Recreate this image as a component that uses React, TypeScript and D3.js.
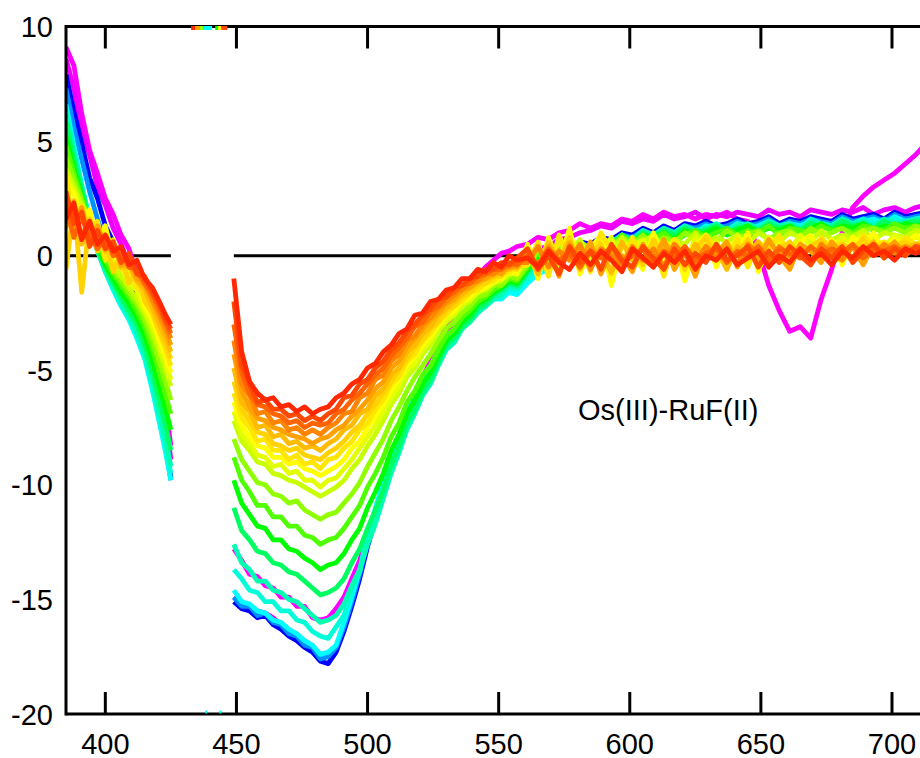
import React from 'react';
import * as d3 from 'd3';

// ---------- data ----------
const WL_LEFT = [385, 388, 391, 394, 397, 400, 403, 406, 409, 412, 415, 418, 421, 423, 425];
const WL_RIGHT = [
  449, 452, 455, 458, 461, 464, 467, 470, 473, 476, 479, 482, 485, 488, 491, 494, 497, 500, 503, 506,
  509, 512, 515, 518, 521, 524, 527, 530, 533, 536, 539, 542, 545, 548, 551, 554, 557,
  561, 565, 569, 573, 577, 581, 585, 589, 593, 597, 601, 605, 609, 613, 617, 621, 625, 629, 633,
  637, 641, 645, 649, 653, 657, 661, 665, 669, 673, 677, 681, 685, 689, 693, 697, 701, 705, 709, 713,
];
const X_TICKS = [400, 450, 500, 550, 600, 650, 700];
const Y_TICKS = [10, 5, 0, -5, -10, -15, -20];
const LABEL = 'Os(III)-RuF(II)';

const magentaL = [9.1, 8.3, 6.2, 4.6, 3.6, 2.5, 1.8, 0.9, 0.3, -0.8, -1.9, -3.3, -5.0, -6.6, -8.3];
const purpleL = [8.6, 7.3, 5.5, 4.4, 3.0, 2.2, 1.2, 0.5, -0.4, -1.3, -2.5, -3.9, -5.7, -7.2, -8.9];
const blueL = [7.9, 6.3, 4.9, 3.4, 2.5, 1.3, 0.6, -0.4, -1.1, -2.1, -3.2, -4.7, -6.4, -8.0, -9.7];
const azureL = [7.3, 5.6, 4.2, 2.8, 1.6, 0.6, -0.3, -1.0, -1.8, -2.7, -3.8, -5.3, -7.0, -8.4, -9.8];
const cyanL = [6.6, 4.8, 3.1, 1.6, 0.3, -0.7, -1.5, -2.2, -2.8, -3.6, -4.5, -5.9, -7.5, -8.6, -9.8];
const tealL = [6.4, 4.6, 3.0, 1.6, 0.2, -0.7, -1.4, -2.1, -2.7, -3.4, -4.4, -5.7, -7.3, -8.3, -9.5];
const aquaL = [6.2, 4.5, 3.0, 1.5, 0.2, -0.6, -1.3, -2.0, -2.6, -3.3, -4.2, -5.5, -7.0, -8.0, -9.2];
const springL = [5.8, 4.2, 2.8, 1.4, 0.3, -0.5, -1.2, -1.8, -2.4, -3.0, -3.9, -5.1, -6.5, -7.4, -8.5];
const greenL = [5.2, 3.8, 2.6, 1.3, 0.4, -0.4, -1.0, -1.6, -2.1, -2.7, -3.5, -4.6, -5.9, -6.7, -7.6];
const green2L = [4.8, 3.6, 2.5, 1.4, 0.6, -0.2, -0.8, -1.3, -1.8, -2.4, -3.1, -4.1, -5.3, -6.1, -6.9];
const chartL = [4.3, 3.3, 2.4, 1.5, 0.8, 0.0, -0.6, -1.1, -1.6, -2.1, -2.8, -3.7, -4.8, -5.5, -6.3];
const ygL = [3.8, 3.0, 2.2, 1.6, 0.9, 0.2, -0.4, -0.9, -1.4, -1.9, -2.5, -3.3, -4.3, -5.0, -5.7];
const lemonL = [3.5, 2.8, 1.8, 1.8, 0.7, 0.7, -0.3, -0.4, -1.2, -1.5, -2.4, -3.0, -4.0, -4.7, -5.4];
const yellowL = [3.2, 2.7, 1.5, 2.0, 0.6, 1.3, -0.1, 0.2, -1.1, -0.9, -2.2, -2.8, -3.8, -4.4, -5.1];
const sunL = [3.6, 1.0, 2.2, 0.8, 1.5, -0.2, 0.7, -0.6, -0.4, -1.4, -1.7, -2.6, -3.5, -4.1, -4.8];
const goldL = [-0.6, 2.2, -1.6, 1.6, 0.2, 0.8, -0.7, 0.1, -1.2, -0.7, -2.0, -2.5, -3.4, -3.9, -4.5];
const amberL = [1.2, 2.4, 0.5, 1.2, 0.9, 0.2, 0.6, -0.5, -0.4, -1.1, -1.5, -2.3, -3.1, -3.6, -4.2];
const orangeL = [2.6, 1.3, 2.1, 0.6, 1.3, 0.4, 0.5, -0.4, -0.2, -1.0, -1.3, -2.0, -2.8, -3.3, -3.9];
const tangerineL = [2.4, 1.9, 0.9, 1.5, 0.4, 0.7, 0.3, -0.1, -0.3, -0.7, -1.2, -1.9, -2.6, -3.1, -3.6];
const dorangeL = [2.2, 0.8, 1.7, 0.9, 0.3, 0.9, 0.0, 0.2, -0.5, -0.6, -1.2, -1.7, -2.4, -2.9, -3.4];
const vermilionL = [2.8, 1.4, 1.9, 0.4, 1.1, 0.3, 0.6, -0.3, 0.1, -0.8, -0.9, -1.6, -2.2, -2.8, -3.2];
const redL = [1.6, 2.3, 0.7, 1.5, 0.5, 0.9, 0.2, 0.4, -0.4, -0.2, -1.0, -1.4, -2.1, -2.6, -3.0];

const magentaR = [
  -12.8, -13.3, -13.9, -14.0, -14.4, -14.5, -14.9, -14.9, -15.3, -15.3, -15.8, -15.9, -15.8, -15.4, -14.9, -14.1, -13.3, -12.2, -11.2, -10.1,
  -9.0, -8.1, -7.1, -6.2, -5.3, -4.6, -3.8, -3.1, -2.5, -1.9, -1.4, -0.9, -0.5, -0.2, 0.1, 0.2, 0.4,
  0.5, 0.8, 0.7, 1.0, 1.1, 1.4, 1.2, 1.4, 1.3, 1.6, 1.5, 1.8, 1.6, 1.9, 1.7, 1.8, 1.6, 1.8, 1.7, 1.9,
  1.6, 1.5, 0.2, -1.3, -2.4, -3.3, -3.1, -3.6, -1.9, -0.6, 1.0, 2.1, 2.6, 3.0, 3.3, 3.6, 4.0, 4.4, 4.9,
];
const purpleR = [
  -14.9, -15.2, -15.4, -15.5, -15.6, -15.8, -16.1, -16.4, -16.5, -16.9, -17.0, -17.5, -17.5, -17.1, -16.1, -15.1, -13.8, -12.5, -11.2, -10.1,
  -8.9, -8.0, -7.0, -6.2, -5.4, -4.8, -4.2, -3.5, -3.1, -2.6, -2.2, -1.9, -1.6, -1.3, -1.1, -0.7, -0.6,
  -0.1, 0.3, 0.4, 0.7, 0.8, 1.0, 1.1, 1.3, 1.2, 1.5, 1.4, 1.6, 1.5, 1.8, 1.6, 1.7, 1.9, 1.6, 1.8, 1.7,
  1.9, 1.8, 1.7, 2.0, 1.8, 1.9, 1.7, 2.0, 1.9, 1.8, 2.0, 1.9, 2.1, 1.8, 2.0, 2.1, 1.9, 2.1, 2.2,
];
const blueR = [
  -15.1, -15.4, -15.5, -15.8, -15.7, -16.1, -16.3, -16.6, -16.8, -17.1, -17.3, -17.7, -17.8, -17.3, -16.4, -15.3, -14.1, -12.7, -11.5, -10.3,
  -9.2, -8.3, -7.2, -6.5, -5.6, -5.1, -4.4, -3.8, -3.4, -2.9, -2.6, -2.2, -2.0, -1.7, -1.6, -1.3, -1.3,
  -0.8, -0.4, -0.1, 0.2, 0.3, 0.6, 0.5, 0.8, 0.7, 1.0, 0.9, 1.2, 1.0, 1.3, 1.1, 1.4, 1.3, 1.5, 1.3, 1.4,
  1.6, 1.4, 1.5, 1.7, 1.4, 1.6, 1.5, 1.7, 1.6, 1.5, 1.8, 1.6, 1.7, 1.8, 1.6, 1.9, 1.7, 1.8, 1.9,
];
const azureR = [
  -14.9, -15.3, -15.3, -15.7, -15.6, -16.0, -16.1, -16.5, -16.6, -17.0, -17.1, -17.6, -17.5, -17.1, -16.2, -15.1, -13.9, -12.5, -11.3, -10.1,
  -9.0, -8.1, -7.0, -6.3, -5.5, -5.0, -4.3, -3.7, -3.4, -2.9, -2.6, -2.3, -2.1, -1.8, -1.8, -1.5, -1.5,
  -1.0, -0.6, -0.3, 0.0, 0.2, 0.4, 0.3, 0.7, 0.6, 0.9, 0.8, 1.1, 0.9, 1.2, 1.0, 1.3, 1.2, 1.4, 1.2, 1.3,
  1.5, 1.3, 1.4, 1.6, 1.3, 1.5, 1.4, 1.6, 1.5, 1.4, 1.7, 1.5, 1.6, 1.7, 1.5, 1.8, 1.6, 1.7, 1.8,
];
const cyanR = [
  -14.6, -15.1, -15.2, -15.5, -15.6, -15.9, -16.0, -16.3, -16.5, -16.8, -17.0, -17.4, -17.3, -17.0, -16.0, -14.9, -13.7, -12.2, -11.0, -9.9,
  -8.8, -7.9, -6.8, -6.1, -5.3, -4.9, -4.2, -3.6, -3.3, -2.9, -2.6, -2.3, -2.2, -1.9, -1.9, -1.6, -1.7,
  -1.2, -0.8, -0.6, -0.2, -0.1, 0.3, 0.2, 0.5, 0.4, 0.8, 0.6, 0.9, 0.8, 1.1, 0.9, 1.2, 1.0, 1.3, 1.2, 1.1,
  1.4, 1.2, 1.3, 1.5, 1.2, 1.4, 1.3, 1.5, 1.4, 1.3, 1.6, 1.4, 1.5, 1.6, 1.4, 1.7, 1.5, 1.6, 1.7,
];
const tealR = [
  -13.7, -14.1, -14.6, -14.7, -15.1, -15.1, -15.5, -15.5, -15.9, -16.0, -16.4, -16.6, -16.7, -16.2, -15.7, -14.6, -13.8, -12.3, -11.4, -10.2,
  -9.2, -8.2, -7.3, -6.4, -5.8, -5.2, -4.6, -3.8, -3.6, -3.0, -2.8, -2.4, -2.2, -1.9, -1.8, -1.4, -1.5,
  -1.0, -0.5, -0.5, 0.0, 0.0, 0.4, 0.3, 0.6, 0.5, 0.9, 0.6, 1.0, 0.9, 1.1, 1.0, 1.3, 1.0, 1.2, 1.3, 1.1,
  1.4, 1.3, 1.2, 1.5, 1.3, 1.4, 1.2, 1.6, 1.4, 1.3, 1.5, 1.4, 1.6, 1.4, 1.5, 1.6, 1.4, 1.6, 1.6,
];
const aquaR = [
  -12.6, -13.4, -13.7, -14.2, -14.2, -14.6, -14.7, -15.0, -15.1, -15.4, -15.7, -16.0, -15.9, -15.7, -15.2, -14.4, -13.7, -12.6, -11.7, -10.6,
  -9.5, -8.6, -7.6, -6.9, -6.1, -5.6, -4.8, -4.1, -3.8, -3.2, -2.9, -2.5, -2.2, -1.9, -1.7, -1.3, -1.4,
  -0.8, -0.2, -0.4, 0.2, 0.1, 0.5, 0.3, 0.7, 0.6, 0.9, 0.7, 1.1, 0.9, 1.2, 1.0, 1.3, 1.1, 1.2, 1.4, 1.1,
  1.3, 1.4, 1.2, 1.5, 1.3, 1.4, 1.2, 1.5, 1.4, 1.3, 1.6, 1.4, 1.5, 1.3, 1.6, 1.4, 1.5, 1.6, 1.5,
];
const springR = [
  -11.0, -12.0, -12.4, -12.9, -13.0, -13.4, -13.5, -13.8, -13.9, -14.2, -14.5, -14.8, -14.7, -14.5, -14.1, -13.4, -12.8, -11.9, -11.1, -10.2,
  -9.1, -8.3, -7.3, -6.7, -5.9, -5.4, -4.6, -3.9, -3.6, -3.1, -2.8, -2.3, -2.1, -1.7, -1.5, -1.2, -1.3,
  -0.7, -0.1, -0.4, 0.3, 0.0, 0.5, 0.2, 0.7, 0.5, 0.9, 0.6, 1.0, 0.8, 1.1, 0.9, 1.2, 1.0, 1.1, 1.3, 1.0,
  1.2, 1.3, 1.1, 1.4, 1.2, 1.3, 1.1, 1.4, 1.3, 1.2, 1.5, 1.3, 1.4, 1.2, 1.5, 1.3, 1.4, 1.5, 1.4,
];
const greenR = [
  -9.8, -10.8, -11.3, -11.8, -11.9, -12.4, -12.4, -12.8, -12.9, -13.2, -13.4, -13.7, -13.5, -13.4, -13.0, -12.4, -11.9, -11.0, -10.3, -9.5,
  -8.5, -7.8, -6.9, -6.3, -5.6, -5.1, -4.4, -3.7, -3.4, -2.9, -2.6, -2.1, -1.9, -1.6, -1.4, -1.1, -1.2,
  -0.6, 0.0, -0.3, 0.3, 0.1, 0.5, 0.3, 0.7, 0.5, 0.8, 0.6, 0.9, 0.8, 1.0, 0.7, 1.1, 0.9, 1.0, 1.2, 0.9,
  1.1, 1.3, 1.0, 1.2, 1.1, 1.3, 1.0, 1.2, 1.4, 1.1, 1.3, 1.2, 1.4, 1.1, 1.3, 1.2, 1.4, 1.3, 1.4,
];
const green2R = [
  -8.8, -9.8, -10.3, -10.9, -10.9, -11.4, -11.4, -11.8, -11.8, -12.2, -12.3, -12.6, -12.4, -12.3, -11.9, -11.4, -10.9, -10.1, -9.5, -8.8,
  -7.9, -7.3, -6.4, -5.9, -5.2, -4.8, -4.1, -3.5, -3.2, -2.7, -2.4, -2.0, -1.8, -1.5, -1.3, -1.0, -1.1,
  -0.5, 0.1, -0.2, 0.4, 0.1, 0.6, 0.3, 0.7, 0.4, 0.9, 0.5, 0.8, 0.7, 1.0, 0.6, 0.9, 1.1, 0.8, 1.0, 1.2,
  0.9, 1.1, 1.0, 1.3, 0.9, 1.2, 1.1, 1.0, 1.3, 1.1, 1.2, 1.0, 1.3, 1.2, 1.1, 1.4, 1.2, 1.3, 1.2,
];
const chartR = [
  -8.0, -8.9, -9.4, -9.9, -10.0, -10.4, -10.5, -10.8, -10.7, -11.1, -11.3, -11.5, -11.3, -11.2, -10.8, -10.4, -9.9, -9.2, -8.6, -8.0,
  -7.2, -6.6, -5.9, -5.3, -4.8, -4.3, -3.7, -3.2, -2.9, -2.5, -2.2, -1.8, -1.7, -1.3, -1.3, -0.9, -1.0,
  -0.4, 0.2, -0.1, 0.5, 0.0, 0.6, 0.3, 0.7, 0.2, 0.8, 0.5, 0.9, 0.4, 0.8, 0.6, 1.0, 0.7, 0.9, 0.6, 1.1,
  0.8, 0.9, 1.1, 0.7, 1.0, 1.1, 0.8, 1.2, 0.9, 1.0, 1.2, 0.9, 1.1, 1.2, 1.0, 1.2, 1.0, 1.3, 1.1,
];
const ygR = [
  -7.2, -8.1, -8.5, -9.0, -9.1, -9.5, -9.6, -9.8, -9.9, -10.1, -10.3, -10.5, -10.3, -10.1, -9.8, -9.3, -8.9, -8.3, -7.8, -7.2,
  -6.5, -6.0, -5.3, -4.9, -4.3, -3.9, -3.3, -2.9, -2.6, -2.2, -2.0, -1.6, -1.5, -1.2, -1.1, -0.8, -0.8,
  -0.2, 0.4, -0.3, 0.6, 0.1, 0.7, -0.1, 0.5, 0.3, 0.8, 0.2, 0.6, 0.9, 0.3, 0.7, 0.5, 1.0, 0.4, 0.8, 0.6,
  0.9, 0.5, 1.0, 0.7, 0.6, 1.0, 0.8, 0.6, 1.1, 0.7, 0.9, 0.8, 1.1, 0.7, 1.0, 0.9, 0.8, 1.1, 1.0,
];
const lemonR = [
  -6.8, -7.8, -8.2, -8.7, -8.8, -9.2, -9.1, -9.5, -9.4, -9.8, -9.8, -10.1, -9.8, -9.7, -9.3, -8.9, -8.4, -7.9, -7.4, -6.8,
  -6.2, -5.7, -5.0, -4.7, -4.1, -3.7, -3.1, -2.8, -2.5, -2.1, -1.9, -1.6, -1.4, -1.2, -1.0, -0.8, -0.7,
  0.2, -0.5, 0.6, -0.1, 0.9, -0.4, 0.5, 0.1, 0.8, -0.6, 0.4, 0.7, -0.2, 0.6, 0.3, -0.5, 0.8, 0.2, 0.6, -0.3,
  0.9, 0.4, 0.1, 0.8, 0.5, 0.2, 0.9, 0.4, 0.7, 0.3, 0.8, 0.5, 0.9, 0.6, 0.4, 0.9, 0.6, 0.8, 0.7,
];
const yellowR = [
  -6.4, -7.4, -7.9, -8.3, -8.4, -8.8, -8.8, -9.1, -9.0, -9.3, -9.4, -9.6, -9.4, -9.2, -8.9, -8.4, -8.1, -7.5, -7.0, -6.5,
  -5.9, -5.4, -4.8, -4.4, -3.9, -3.5, -3.0, -2.6, -2.4, -2.0, -1.8, -1.5, -1.4, -1.1, -1.0, -0.6, -0.8,
  0.5, -1.0, 0.8, -0.4, 1.2, -0.8, 0.3, 0.9, -1.3, 0.6, 0.1, -0.6, 1.0, -0.2, 0.7, -1.1, 0.4, 0.9, -0.5, 0.6,
  0.2, 1.0, -0.7, 0.5, 0.8, -0.3, 0.6, 0.9, 0.1, 0.7, -0.4, 0.8, 0.5, 1.0, 0.2, 0.7, 0.5, 0.9, 0.6,
];
const sunR = [
  -6.0, -7.1, -7.5, -8.1, -8.0, -8.5, -8.5, -8.9, -8.7, -9.1, -9.0, -9.3, -8.9, -8.8, -8.4, -8.1, -7.6, -7.3, -6.7, -6.3,
  -5.6, -5.3, -4.6, -4.3, -3.7, -3.4, -2.9, -2.6, -2.2, -2.0, -1.6, -1.5, -1.2, -1.1, -0.8, -0.7, -0.5,
  -0.4, 0.6, -0.9, 0.9, -0.2, 0.4, -0.7, 1.0, 0.2, -0.5, 0.8, -0.3, 0.5, -0.9, 0.7, 0.1, -0.4, 0.9, 0.3, -0.2,
  0.7, -0.5, 0.6, 0.2, 0.9, -0.1, 0.5, -0.4, 0.8, 0.3, 0.6, -0.2, 0.9, 0.4, 0.6, 0.2, 0.8, 0.5, 0.7,
];
const goldR = [
  -5.5, -6.7, -7.2, -7.7, -7.8, -8.2, -8.3, -8.5, -8.4, -8.7, -8.8, -8.9, -8.6, -8.4, -8.1, -7.7, -7.4, -6.9, -6.5, -6.0,
  -5.5, -5.0, -4.5, -4.0, -3.7, -3.2, -2.9, -2.4, -2.2, -1.8, -1.6, -1.3, -1.2, -0.9, -0.9, -0.5, -0.6,
  0.3, -0.7, 0.6, -0.2, 0.8, -0.5, 0.1, 0.5, -0.8, 0.4, 0.2, -0.4, 0.7, 0.0, 0.5, -0.6, 0.3, 0.8, -0.2, 0.4,
  0.1, 0.7, -0.3, 0.5, 0.2, 0.6, -0.1, 0.4, 0.7, 0.0, 0.5, 0.3, 0.7, 0.1, 0.5, 0.4, 0.6, 0.3, 0.6,
];
const amberR = [
  -4.9, -6.4, -6.8, -7.5, -7.4, -7.9, -7.8, -8.2, -8.1, -8.4, -8.3, -8.5, -8.2, -8.0, -7.6, -7.4, -6.9, -6.7, -6.1, -5.8,
  -5.2, -4.9, -4.2, -3.9, -3.4, -3.1, -2.6, -2.3, -2.0, -1.7, -1.4, -1.2, -1.0, -0.9, -0.6, -0.6, -0.4,
  0.1, -0.8, 0.5, -0.3, 0.6, -0.6, 0.4, 0.0, -0.7, 0.6, -0.2, 0.3, -0.5, 0.6, 0.1, -0.4, 0.5, -0.1, 0.3, -0.6,
  0.4, 0.1, 0.6, -0.2, 0.3, -0.4, 0.5, 0.2, -0.1, 0.6, 0.0, 0.4, 0.2, 0.6, -0.1, 0.5, 0.3, 0.5, 0.4,
];
const orangeR = [
  -4.3, -5.9, -6.6, -7.1, -7.2, -7.5, -7.6, -7.8, -7.9, -8.0, -8.2, -8.0, -7.9, -7.6, -7.4, -7.0, -6.7, -6.3, -5.8, -5.5,
  -4.9, -4.6, -4.0, -3.6, -3.2, -2.8, -2.5, -2.1, -1.9, -1.5, -1.4, -1.1, -1.0, -0.7, -0.8, -0.4, -0.5,
  0.2, -0.6, 0.4, -0.9, 0.5, -0.3, 0.6, -0.8, 0.3, 0.0, -0.7, 0.5, -0.2, 0.7, -0.6, 0.2, -0.9, 0.4, 0.1, 0.6,
  -0.5, 0.3, -0.2, 0.7, 0.0, -0.6, 0.5, 0.2, -0.3, 0.6, 0.1, 0.4, -0.4, 0.5, 0.2, 0.6, 0.0, 0.4, 0.5,
];
const tangerineR = [
  -3.7, -5.6, -6.1, -6.9, -6.8, -7.3, -7.2, -7.6, -7.5, -7.8, -7.6, -7.8, -7.5, -7.3, -6.9, -6.8, -6.2, -6.0, -5.4, -5.2,
  -4.6, -4.3, -3.7, -3.5, -3.0, -2.7, -2.3, -2.0, -1.7, -1.5, -1.2, -1.1, -0.8, -0.8, -0.5, -0.5, -0.3,
  -0.3, 0.4, -0.5, 0.2, -0.2, 0.5, -0.6, 0.3, 0.0, -0.4, 0.4, -0.2, 0.3, -0.5, 0.5, 0.0, -0.3, 0.4, -0.1, 0.2,
  -0.4, 0.5, 0.1, -0.2, 0.4, 0.0, 0.3, -0.3, 0.5, 0.1, -0.2, 0.4, 0.2, 0.0, 0.5, 0.1, 0.4, 0.2, 0.4,
];
const dorangeR = [
  -3.0, -5.1, -6.0, -6.5, -6.6, -6.9, -7.0, -7.3, -7.2, -7.5, -7.3, -7.4, -7.3, -6.9, -6.7, -6.3, -6.0, -5.6, -5.2, -4.9,
  -4.4, -4.0, -3.6, -3.1, -2.9, -2.4, -2.2, -1.8, -1.6, -1.3, -1.2, -0.9, -0.8, -0.6, -0.6, -0.3, -0.4,
  0.0, -0.4, 0.3, -0.2, 0.1, -0.5, 0.2, -0.1, 0.4, -0.3, 0.0, 0.3, -0.4, 0.2, -0.1, 0.4, -0.2, 0.1, 0.3, -0.3,
  0.2, 0.0, 0.4, -0.2, 0.3, 0.1, -0.1, 0.4, 0.0, 0.3, 0.1, 0.5, -0.1, 0.3, 0.2, 0.4, 0.1, 0.3, 0.4,
];
const vermilionR = [
  -2.0, -4.8, -5.6, -6.4, -6.3, -6.7, -6.7, -7.0, -6.9, -7.2, -7.0, -7.2, -6.9, -6.7, -6.2, -6.1, -5.6, -5.4, -4.9, -4.6,
  -4.1, -3.8, -3.3, -3.0, -2.6, -2.3, -1.9, -1.8, -1.4, -1.3, -1.0, -0.9, -0.6, -0.6, -0.3, -0.4, -0.1,
  0.3, -0.6, 0.0, -0.8, 0.4, -0.3, 0.2, -0.6, 0.5, -0.2, -0.5, 0.4, -0.1, -0.6, 0.3, -0.4, 0.1, -0.3, 0.5, -0.2,
  0.0, 0.4, -0.5, 0.2, -0.3, 0.4, 0.0, -0.4, 0.3, -0.1, 0.4, -0.3, 0.2, 0.5, -0.1, 0.3, 0.0, 0.4, 0.2,
];
const redR = [
  -1.0, -4.2, -5.5, -6.0, -6.3, -6.2, -6.6, -6.5, -6.8, -6.6, -6.9, -6.7, -6.6, -6.2, -6.0, -5.6, -5.4, -4.9, -4.7, -4.2,
  -3.9, -3.4, -3.2, -2.6, -2.5, -2.0, -1.9, -1.5, -1.4, -1.0, -1.0, -0.6, -0.7, -0.3, -0.5, 0.0, -0.2,
  -0.1, -0.5, 0.2, -0.3, -0.6, 0.1, -0.4, 0.2, -0.2, -0.7, 0.3, -0.1, -0.5, 0.1, -0.3, 0.2, -0.6, 0.0, -0.2, 0.3,
  -0.4, -0.1, 0.2, -0.5, 0.0, -0.3, 0.3, -0.2, 0.1, -0.4, 0.2, -0.1, 0.4, 0.0, 0.2, -0.2, 0.3, 0.1, 0.3,
];

// drawing order: first (magenta) to last (red, on top)
const SERIES_NAMES = [
  'magenta', 'purple', 'blue', 'azure', 'cyan', 'teal', 'aqua', 'spring', 'green', 'green2', 'chart',
  'yg', 'lemon', 'yellow', 'sun', 'gold', 'amber', 'orange', 'tangerine', 'dorange', 'vermilion', 'red',
];
const COLORS = [
  '#ff00ff', '#ee00ff', '#0000ff', '#0090ff', '#00ffff', '#00ffd8', '#00ffb0', '#00ff60', '#00ff00', '#50ff00', '#90ff00',
  '#c8ff00', '#e4ff00', '#ffff00', '#ffe600', '#ffd200', '#ffbb00', '#ffa000', '#ff8400', '#ff6400', '#ff4800', '#ff2800',
];
const LEFT_VALUES = [
  magentaL, purpleL, blueL, azureL, cyanL, tealL, aquaL, springL, greenL, green2L, chartL,
  ygL, lemonL, yellowL, sunL, goldL, amberL, orangeL, tangerineL, dorangeL, vermilionL, redL,
];
const RIGHT_VALUES = [
  magentaR, purpleR, blueR, azureR, cyanR, tealR, aquaR, springR, greenR, green2R, chartR,
  ygR, lemonR, yellowR, sunR, goldR, amberR, orangeR, tangerineR, dorangeR, vermilionR, redR,
];

// clipped excursions in the blanked 425–449 nm region: [from, to, colour]
const CLIP_TOP: [number, number, string][] = [
  [432.7, 434.2, '#ff2800'], [434.2, 436.1, '#ffa000'], [436.1, 437.3, '#90ff00'], [437.3, 440.7, '#00ffff'],
  [441.9, 443.0, '#00ff00'], [443.0, 444.2, '#ffff00'], [444.2, 446.5, '#ff4800'],
];
const CLIP_BOTTOM: [number, number, string][] = [[438.1, 438.8, '#00ffff'], [443.5, 444.2, '#00ffff']];

// ---------- layout ----------
const W = 920;
const H = 758;
const X0 = 66;
const PX_PER_NM = 2.6222;
const X_MAX = 720;
const Y_TOP = 26.5;
const Y_BOT = 714;
const LINE_W = 4.8;
const FONT = "'Liberation Sans', Arial, Helvetica, sans-serif";

export default function App() {
  const x = d3.scaleLinear().domain([385, X_MAX]).range([X0, X0 + (X_MAX - 385) * PX_PER_NM]);
  const y = d3.scaleLinear().domain([-20, 10]).range([Y_BOT, Y_TOP]);

  const line = d3
    .line<[number, number]>()
    .x((d) => x(d[0]))
    .y((d) => y(d[1]));

  const pts = (wl: number[], v: number[]): [number, number][] =>
    wl.slice(0, Math.min(wl.length, v.length)).map((w, i) => [w, v[i]]);

  return (
    <svg
      width={W}
      height={H}
      style={{ position: 'absolute', left: 0, top: 0, background: '#fff' }}
      fontFamily={FONT}
    >
      <defs>
        <clipPath id="plotclip">
          <rect x={X0} y={Y_TOP} width={W - X0 + 40} height={Y_BOT - Y_TOP} />
        </clipPath>
      </defs>
      <rect x={0} y={0} width={W} height={H} fill="#fff" />

      <g clipPath="url(#plotclip)">
        {/* zero line, interrupted like the data */}
        <path d={line(pts(WL_LEFT, WL_LEFT.map(() => 0))) || ''} stroke="#000" strokeWidth={3} fill="none" />
        <path d={line(pts(WL_RIGHT, WL_RIGHT.map(() => 0))) || ''} stroke="#000" strokeWidth={3} fill="none" />
        {SERIES_NAMES.map((name, i) => (
          <g key={name}>
            <path
              d={line(pts(WL_LEFT, LEFT_VALUES[i])) || ''}
              stroke={COLORS[i]}
              strokeWidth={LINE_W}
              fill="none"
              strokeLinejoin="round"
            />
            <path
              d={line(pts(WL_RIGHT, RIGHT_VALUES[i])) || ''}
              stroke={COLORS[i]}
              strokeWidth={LINE_W}
              fill="none"
              strokeLinejoin="round"
            />
          </g>
        ))}
      </g>

      {/* axes */}
      <g stroke="#000" strokeWidth={3} fill="none">
        <line x1={X0} x2={W} y1={Y_BOT} y2={Y_BOT} />
        <line x1={X0} x2={W} y1={Y_TOP} y2={Y_TOP} />
        <line x1={X0} x2={X0} y1={Y_TOP - 1.5} y2={Y_BOT + 1.5} />
        {X_TICKS.map((t) => (
          <g key={t}>
            <line x1={x(t)} x2={x(t)} y1={Y_BOT} y2={Y_BOT - 22} />
            <line x1={x(t)} x2={x(t)} y1={Y_TOP} y2={Y_TOP + 22} />
          </g>
        ))}
      </g>

      {/* clipped bits of the blanked region */}
      {CLIP_TOP.map((c, i) => (
        <line key={'t' + i} x1={x(c[0])} x2={x(c[1])} y1={y(10) + 1.5} y2={y(10) + 1.5} stroke={c[2]} strokeWidth={4} />
      ))}
      {CLIP_BOTTOM.map((c, i) => (
        <line key={'b' + i} x1={x(c[0])} x2={x(c[1])} y1={y(-20) - 2} y2={y(-20) - 2} stroke={c[2]} strokeWidth={3} />
      ))}

      {/* tick labels */}
      <g fontSize={29} fill="#000">
        {Y_TICKS.map((t) => (
          <text key={t} x={53} y={y(t) + 10.5} textAnchor="end">
            {t}
          </text>
        ))}
        {X_TICKS.map((t) => (
          <text key={t} x={x(t)} y={753.5} textAnchor="middle">
            {t}
          </text>
        ))}
      </g>

      <text x={578} y={420} fontSize={29} fill="#000">
        {LABEL}
      </text>
    </svg>
  );
}
